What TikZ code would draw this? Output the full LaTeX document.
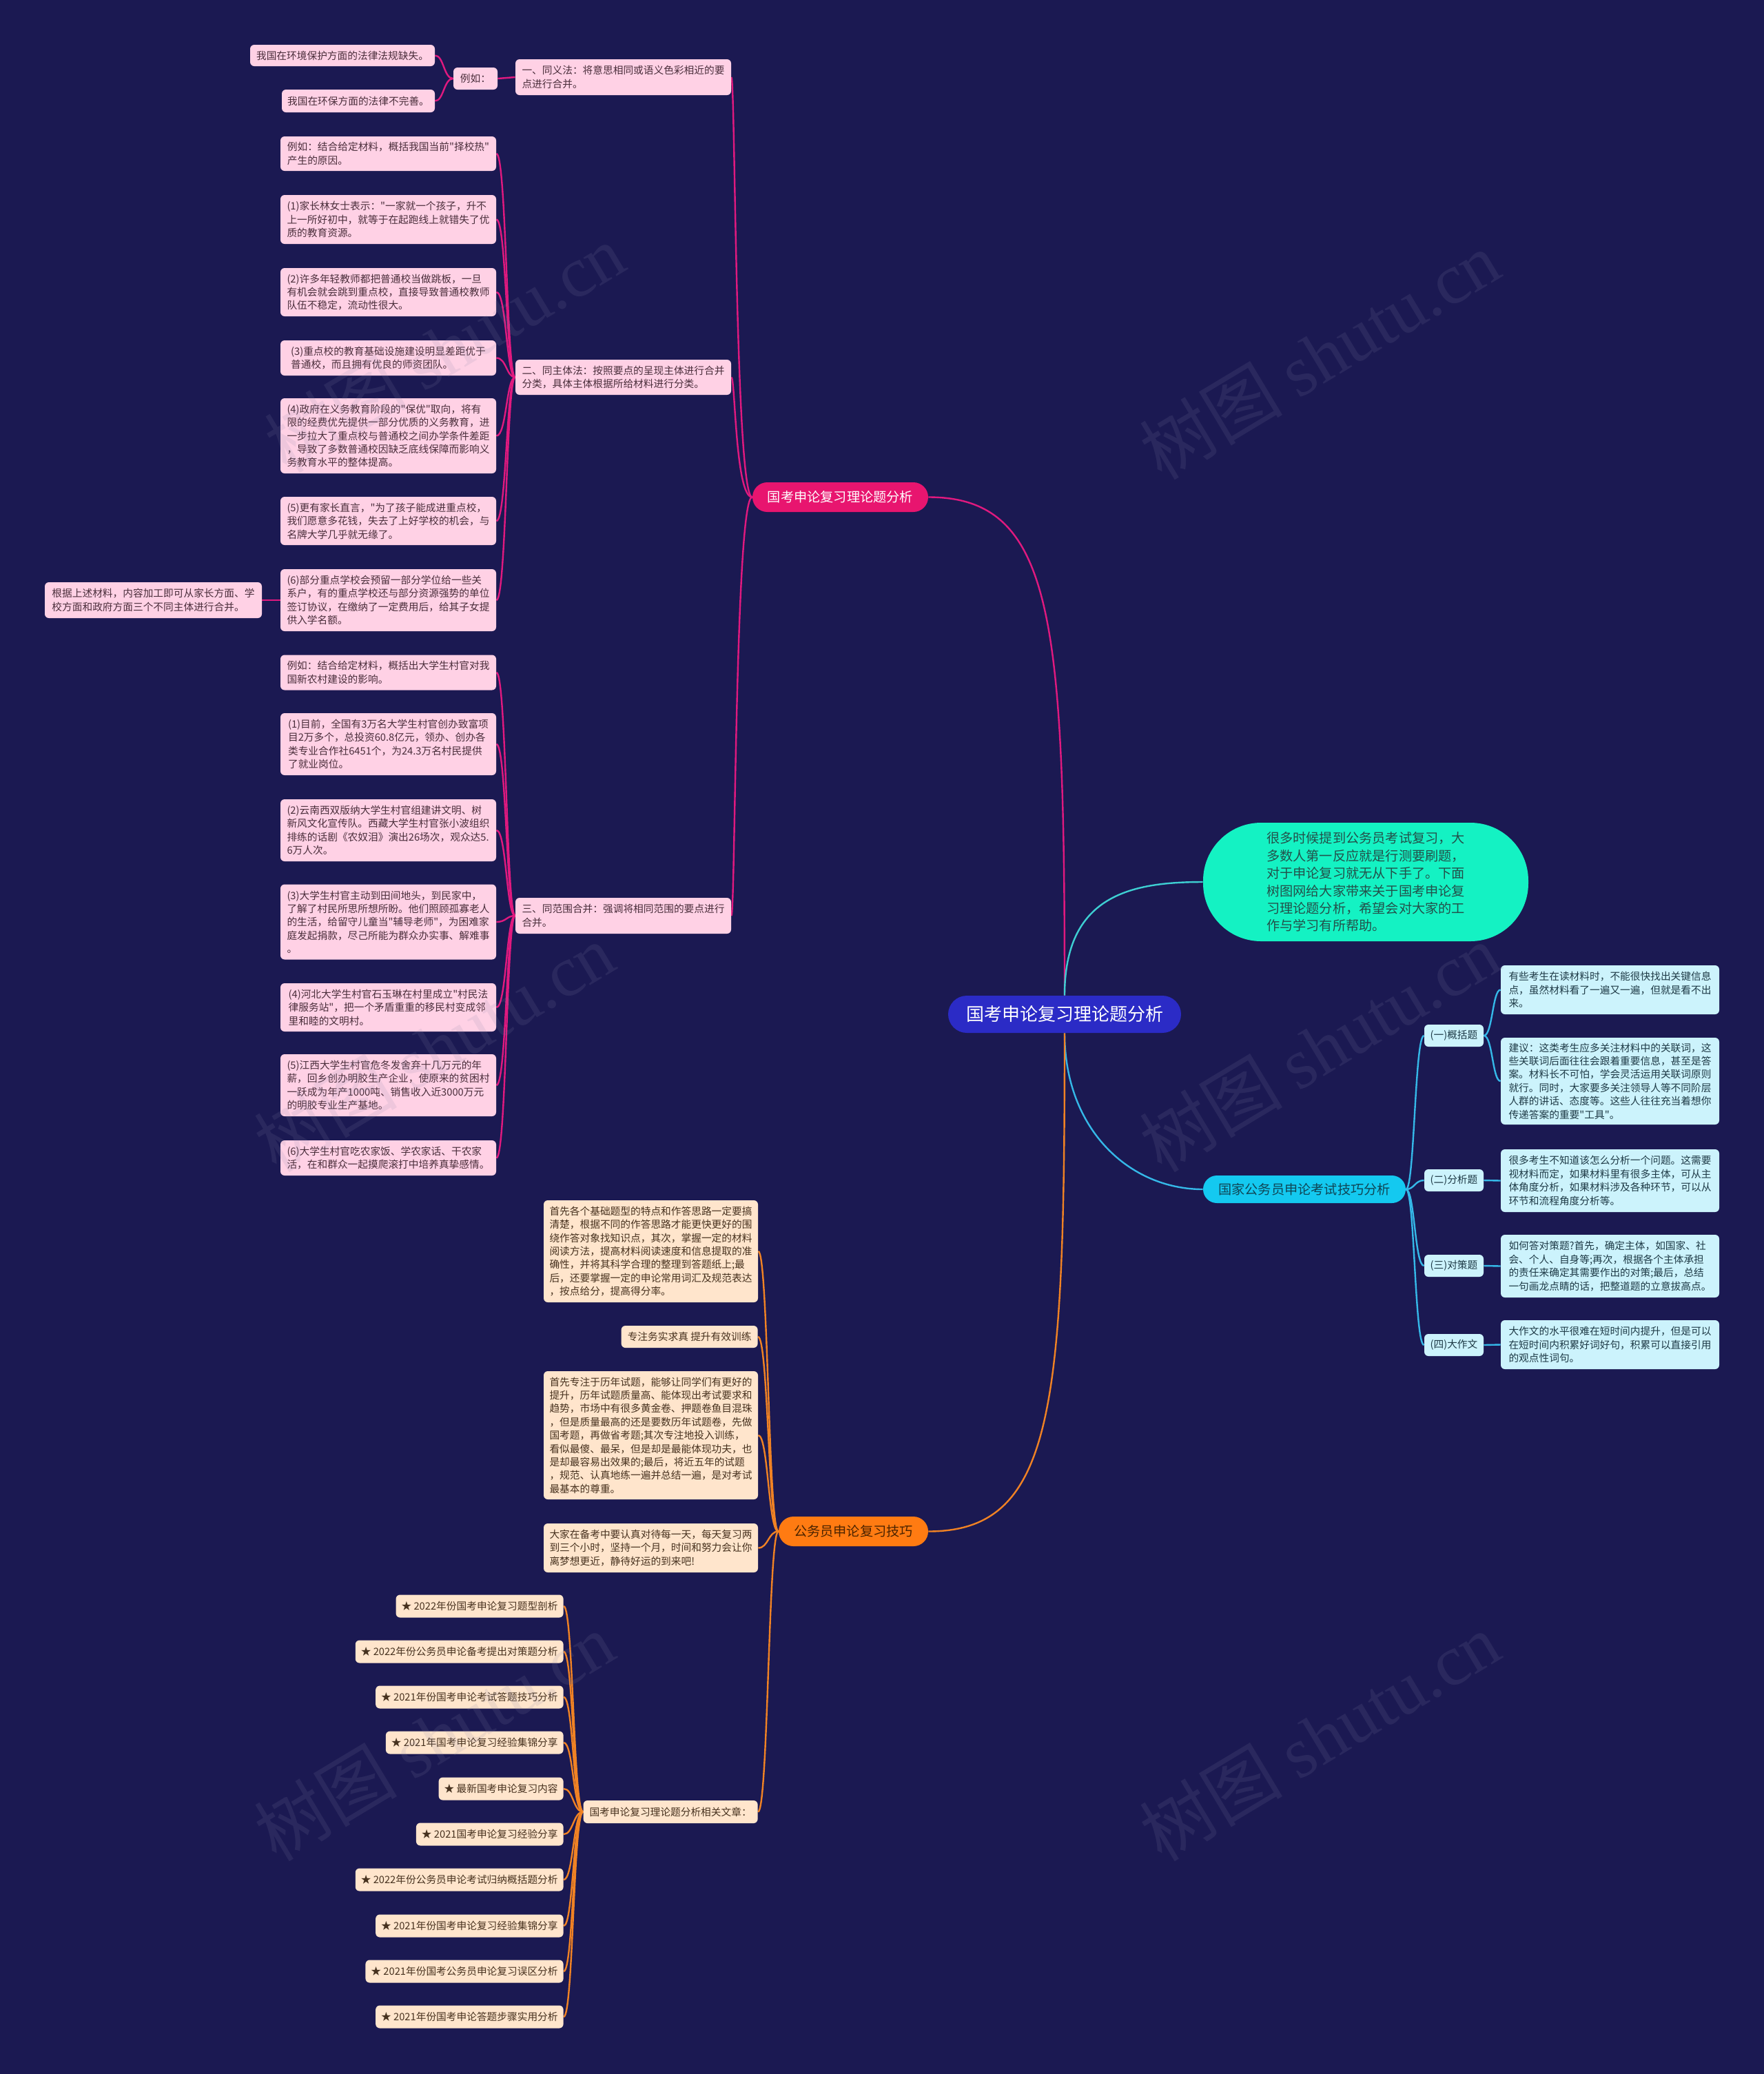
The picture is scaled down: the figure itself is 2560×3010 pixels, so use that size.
\documentclass[tikz,border=0pt]{standalone}
\usepackage{fontspec}
\setmainfont{Noto Sans CJK SC}
\newfontfamily\wmlatin{Liberation Serif}
\font\qf="Noto Sans CJK SC" at 7.35pt
\newcommand\dq{{\qf\char34}}
\definecolor{bgc}{HTML}{1B1952}
\definecolor{rootc}{HTML}{2B2BC6}
\definecolor{pinkb}{HTML}{E8156F}
\definecolor{pinkf}{HTML}{FFD1E5}
\definecolor{pinkt}{HTML}{4A2E3B}
\definecolor{pinkl}{HTML}{E0197F}
\definecolor{introf}{HTML}{14F2C3}
\definecolor{introt}{HTML}{23504A}
\definecolor{introl}{HTML}{3ECFD2}
\definecolor{cyanb}{HTML}{14C9F0}
\definecolor{cyanbt}{HTML}{0F4656}
\definecolor{cyanf}{HTML}{CCF3FC}
\definecolor{cyant}{HTML}{1E3A46}
\definecolor{cyanl}{HTML}{35B8E8}
\definecolor{orb}{HTML}{FF7B12}
\definecolor{orbt}{HTML}{4A2300}
\definecolor{orf}{HTML}{FFE5CC}
\definecolor{ort}{HTML}{47321F}
\definecolor{orl}{HTML}{F08224}
\definecolor{wmc}{HTML}{8888A8}
\pgfdeclarelayer{bg}
\pgfsetlayers{bg,main}
\newcommand\myconn[4]{\draw[#1] (#2) .. controls (#2 -| #3) and (#4 -| #3) .. (#4);}
\begin{document}
\begin{tikzpicture}[x=0.5pt,y=-0.5pt,
  base/.style={rounded corners=3pt, inner xsep=4pt, inner ysep=3pt, align=left,
    font=\fontsize{7.35}{9.7}\selectfont},
  wh/.style 2 args={minimum width=#1, minimum height=#2},
  pinkbox/.style={base, fill=pinkf, text=pinkt},
  cyanbox/.style={base, fill=cyanf, text=cyant},
  orbox/.style={base, fill=orf, text=ort},
  branchfont/.style={font=\fontsize{9.6}{11.5}\selectfont, inner sep=0pt},
  pl/.style={draw=pinkl, line width=1.2pt},
  cl/.style={draw=cyanl, line width=1.2pt},
  ol/.style={draw=orl, line width=1.2pt},
  tl/.style={draw=introl, line width=1.2pt},
  wm/.style={text=wmc, text opacity=0.14, rotate=31, inner sep=0pt}
]
\begin{pgfonlayer}{bg}
\fill[bgc] (0,0) rectangle (2560,3010);
\end{pgfonlayer}
\useasboundingbox (0,0) rectangle (2560,3010);

% root and branches
\node[fill=rootc, text=white, rounded corners=13.5pt, wh={169pt}{27pt}, inner sep=0pt,
  font=\fontsize{13}{15}\selectfont] (root) at (1545,1472) {国考申论复习理论题分析};
\node[fill=pinkb, text=white, rounded corners=10.75pt, wh={127.5pt}{21.5pt}, branchfont] (pb) at (1219.5,721.5) {国考申论复习理论题分析};
\node[fill=introf, text=introt, rounded corners=42pt, wh={236pt}{86pt}, align=left, inner sep=0pt,
  font=\fontsize{9.6}{12.7}\selectfont] (intro) at (1982,1280) {很多时候提到公务员考试复习，大\\多数人第一反应就是行测要刷题，\\对于申论复习就无从下手了。下面\\树图网给大家带来关于国考申论复\\习理论题分析，希望会对大家的工\\作与学习有所帮助。};
\node[fill=cyanb, text=cyanbt, rounded corners=10pt, wh={147pt}{20pt}, branchfont] (cb) at (1893,1726) {国家公务员申论考试技巧分析};
\node[fill=orb, text=orbt, rounded corners=10.75pt, wh={108.5pt}{21.5pt}, branchfont] (ob) at (1238.5,2222.5) {公务员申论复习技巧};

% pink subtree
\node[pinkbox, wh={156.5pt}{26pt}] (n1) at (904.5,112) {一、同义法：将意思相同或语义色彩相近的要\\点进行合并。};
\node[pinkbox, wh={32pt}{16pt}] (eg1) at (690,114) {例如：};
\node[pinkbox, wh={134pt}{15.5pt}] (e1a) at (497,80.5) {我国在环境保护方面的法律法规缺失。};
\node[pinkbox, wh={111pt}{16.5pt}] (e1b) at (520,146.5) {我国在环保方面的法律不完善。};

\node[pinkbox, wh={156.5pt}{25.5pt}] (n2) at (904.5,547.5) {二、同主体法：按照要点的呈现主体进行合并\\分类，具体主体根据所给材料进行分类。};
\node[pinkbox, wh={156.5pt}{25pt}] (c20) at (563.5,223) {例如：结合给定材料，概括我国当前\dq{}择校热\dq{}\\产生的原因。};
\node[pinkbox, wh={156.5pt}{35.5pt}] (c21) at (563.5,318.5) {(1)家长林女士表示：\dq{}一家就一个孩子，升不\\上一所好初中，就等于在起跑线上就错失了优\\质的教育资源。};
\node[pinkbox, wh={156.5pt}{35pt}] (c22) at (563.5,424) {(2)许多年轻教师都把普通校当做跳板，一旦\\有机会就会跳到重点校，直接导致普通校教师\\队伍不稳定，流动性很大。};
\node[pinkbox, wh={156.5pt}{25.5pt}] (c23) at (563.5,519.5) {(3)重点校的教育基础设施建设明显差距优于\\普通校，而且拥有优良的师资团队。};
\node[pinkbox, wh={156.5pt}{54.5pt}] (c24) at (563.5,632.5) {(4)政府在义务教育阶段的\dq{}保优\dq{}取向，将有\\限的经费优先提供一部分优质的义务教育，进\\一步拉大了重点校与普通校之间办学条件差距\\，导致了多数普通校因缺乏底线保障而影响义\\务教育水平的整体提高。};
\node[pinkbox, wh={156.5pt}{35pt}] (c25) at (563.5,756) {(5)更有家长直言，\dq{}为了孩子能成进重点校，\\我们愿意多花钱，失去了上好学校的机会，与\\名牌大学几乎就无缘了。};
\node[pinkbox, wh={156.5pt}{45pt}] (c26) at (563.5,871) {(6)部分重点学校会预留一部分学位给一些关\\系户，有的重点学校还与部分资源强势的单位\\签订协议，在缴纳了一定费用后，给其子女提\\供入学名额。};
\node[pinkbox, wh={157.5pt}{26pt}] (c26a) at (222.5,871) {根据上述材料，内容加工即可从家长方面、学\\校方面和政府方面三个不同主体进行合并。};

\node[pinkbox, wh={156.5pt}{26pt}] (n3) at (904.5,1329) {三、同范围合并：强调将相同范围的要点进行\\合并。};
\node[pinkbox, wh={156.5pt}{25.5pt}] (c30) at (563.5,976) {例如：结合给定材料，概括出大学生村官对我\\国新农村建设的影响。};
\node[pinkbox, wh={156.5pt}{45pt}] (c31) at (563.5,1080) {(1)目前，全国有3万名大学生村官创办致富项\\目2万多个，总投资60.8亿元，领办、创办各\\类专业合作社6451个，为24.3万名村民提供\\了就业岗位。};
\node[pinkbox, wh={156.5pt}{45pt}] (c32) at (563.5,1205) {(2)云南西双版纳大学生村官组建讲文明、树\\新风文化宣传队。西藏大学生村官张小波组织\\排练的话剧《农奴泪》演出26场次，观众达5.\\6万人次。};
\node[pinkbox, wh={156.5pt}{54.5pt}] (c33) at (563.5,1338) {(3)大学生村官主动到田间地头，到民家中，\\了解了村民所思所想所盼。他们照顾孤寡老人\\的生活，给留守儿童当\dq{}辅导老师\dq{}，为困难家\\庭发起捐款，尽己所能为群众办实事、解难事\\。};
\node[pinkbox, wh={156.5pt}{35pt}] (c34) at (563.5,1462) {(4)河北大学生村官石玉琳在村里成立\dq{}村民法\\律服务站\dq{}，把一个矛盾重重的移民村变成邻\\里和睦的文明村。};
\node[pinkbox, wh={156.5pt}{45pt}] (c35) at (563.5,1575) {(5)江西大学生村官危冬发舍弃十几万元的年\\薪，回乡创办明胶生产企业，使原来的贫困村\\一跃成为年产1000吨、销售收入近3000万元\\的明胶专业生产基地。};
\node[pinkbox, wh={156.5pt}{25.5pt}] (c36) at (563.5,1680.5) {(6)大学生村官吃农家饭、学农家话、干农家\\活，在和群众一起摸爬滚打中培养真挚感情。};

% cyan subtree
\node[cyanbox, wh={43pt}{16pt}] (k1) at (2110,1503) {(一)概括题};
\node[cyanbox, wh={43pt}{16pt}] (k2) at (2110,1713) {(二)分析题};
\node[cyanbox, wh={43pt}{16pt}] (k3) at (2110,1837) {(三)对策题};
\node[cyanbox, wh={43pt}{16pt}] (k4) at (2110,1952) {(四)大作文};
\node[cyanbox, wh={158.5pt}{35.5pt}] (d1a) at (2336.5,1436.5) {有些考生在读材料时，不能很快找出关键信息\\点，虽然材料看了一遍又一遍，但就是看不出\\来。};
\node[cyanbox, wh={158.5pt}{63pt}] (d1b) at (2336.5,1569) {建议：这类考生应多关注材料中的关联词，这\\些关联词后面往往会跟着重要信息，甚至是答\\案。材料长不可怕，学会灵活运用关联词原则\\就行。同时，大家要多关注领导人等不同阶层\\人群的讲话、态度等。这些人往往充当着想你\\传递答案的重要\dq{}工具\dq{}。};
\node[cyanbox, wh={158.5pt}{45.5pt}] (d2) at (2336.5,1713.5) {很多考生不知道该怎么分析一个问题。这需要\\视材料而定，如果材料里有很多主体，可从主\\体角度分析，如果材料涉及各种环节，可以从\\环节和流程角度分析等。};
\node[cyanbox, wh={158.5pt}{45.5pt}] (d3) at (2336.5,1837.5) {如何答对策题?首先，确定主体，如国家、社\\会、个人、自身等;再次，根据各个主体承担\\的责任来确定其需要作出的对策;最后，总结\\一句画龙点睛的话，把整道题的立意拔高点。};
\node[cyanbox, wh={158.5pt}{35.5pt}] (d4) at (2336.5,1951.5) {大作文的水平很难在短时间内提升，但是可以\\在短时间内积累好词好句，积累可以直接引用\\的观点性词句。};

% orange subtree
\node[orbox, wh={155.5pt}{74pt}] (oA) at (944.5,1816) {首先各个基础题型的特点和作答思路一定要搞\\清楚，根据不同的作答思路才能更快更好的围\\绕作答对象找知识点，其次，掌握一定的材料\\阅读方法，提高材料阅读速度和信息提取的准\\确性，并将其科学合理的整理到答题纸上;最\\后，还要掌握一定的申论常用词汇及规范表达\\，按点给分，提高得分率。};
\node[orbox, wh={99pt}{16pt}, anchor=east] (oB) at (1100,1940) {专注务实求真 提升有效训练};
\node[orbox, wh={155.5pt}{93pt}] (oC) at (944.5,2083) {首先专注于历年试题，能够让同学们有更好的\\提升，历年试题质量高、能体现出考试要求和\\趋势，市场中有很多黄金卷、押题卷鱼目混珠\\，但是质量最高的还是要数历年试题卷，先做\\国考题，再做省考题;其次专注地投入训练，\\看似最傻、最呆，但是却是最能体现功夫，也\\是却最容易出效果的;最后，将近五年的试题\\，规范、认真地练一遍并总结一遍，是对考试\\最基本的尊重。};
\node[orbox, wh={155.5pt}{35.5pt}] (oD) at (944.5,2246.5) {大家在备考中要认真对待每一天，每天复习两\\到三个小时，坚持一个月，时间和努力会让你\\离梦想更近，静待好运的到来吧!};
\node[orbox, wh={126.5pt}{16.5pt}, anchor=east] (oE) at (1100,2629.5) {国考申论复习理论题分析相关文章：};

\node[orbox, minimum height=16.5pt, anchor=east] (s1) at (818,2331) {★ 2022年份国考申论复习题型剖析};
\node[orbox, minimum height=16.5pt, anchor=east] (s2) at (818,2397) {★ 2022年份公务员申论备考提出对策题分析};
\node[orbox, minimum height=16.5pt, anchor=east] (s3) at (818,2463) {★ 2021年份国考申论考试答题技巧分析};
\node[orbox, minimum height=16.5pt, anchor=east] (s4) at (818,2529) {★ 2021年国考申论复习经验集锦分享};
\node[orbox, minimum height=16.5pt, anchor=east] (s5) at (818,2596) {★ 最新国考申论复习内容};
\node[orbox, minimum height=16.5pt, anchor=east] (s6) at (818,2662) {★ 2021国考申论复习经验分享};
\node[orbox, minimum height=16.5pt, anchor=east] (s7) at (818,2728) {★ 2022年份公务员申论考试归纳概括题分析};
\node[orbox, minimum height=16.5pt, anchor=east] (s8) at (818,2795) {★ 2021年份国考申论复习经验集锦分享};
\node[orbox, minimum height=16.5pt, anchor=east] (s9) at (818,2861) {★ 2021年份国考公务员申论复习误区分析};
\node[orbox, minimum height=16.5pt, anchor=east] (s10) at (818,2927) {★ 2021年份国考申论答题步骤实用分析};

% connectors
\coordinate (vP) at (1067,0);
\coordinate (vP2) at (735,0);
\coordinate (vE) at (644,0);
\coordinate (vC) at (2053,0);
\coordinate (vC1) at (2166,0);
\coordinate (vO) at (1115,0);
\coordinate (vO2) at (832,0);
\begin{pgfonlayer}{bg}
\draw[pl] (root.north) .. controls (1545,900) and (1530,721.5) .. (pb.east);
\draw[tl] (root.north) .. controls (1545,1300) and (1640,1280) .. (intro.west);
\draw[cl] (root.south) .. controls (1545,1640) and (1640,1726) .. (cb.west);
\draw[ol] (root.south) .. controls (1545,2044) and (1530,2222.5) .. (ob.east);

\myconn{pl}{pb.west}{vP}{n1.east}
\myconn{pl}{pb.west}{vP}{n2.east}
\myconn{pl}{pb.west}{vP}{n3.east}
\draw[pl] (n1.west) -- (eg1.east);
\myconn{pl}{eg1.west}{vE}{e1a.east}
\myconn{pl}{eg1.west}{vE}{e1b.east}
\foreach \c in {c20,c21,c22,c23,c24,c25,c26}{\myconn{pl}{n2.west}{vP2}{\c.east}}
\draw[pl] (c26.west) -- (c26a.east);
\foreach \c in {c30,c31,c32,c33,c34,c35,c36}{\myconn{pl}{n3.west}{vP2}{\c.east}}

\foreach \c in {k1,k2,k3,k4}{\myconn{cl}{cb.east}{vC}{\c.west}}
\myconn{cl}{k1.east}{vC1}{d1a.west}
\myconn{cl}{k1.east}{vC1}{d1b.west}
\draw[cl] (k2.east) -- (d2.west);
\draw[cl] (k3.east) -- (d3.west);
\draw[cl] (k4.east) -- (d4.west);

\foreach \c in {oA,oB,oC,oD,oE}{\myconn{ol}{ob.west}{vO}{\c.east}}
\foreach \c in {s1,s2,s3,s4,s5,s6,s7,s8,s9,s10}{\myconn{ol}{oE.west}{vO2}{\c.east}}
\end{pgfonlayer}

% watermarks
\foreach \p/\nm in {{(645,505)}/w1,{(1915,515)}/w2,{(630,1520)}/w3,{(1915,1520)}/w4,{(630,2520)}/w5,{(1915,2520)}/w6}{
  \node[wm] (\nm) at \p {\fontsize{52}{54}\selectfont 树图\ {\wmlatin shutu.cn}};
}
\end{tikzpicture}
\end{document}
